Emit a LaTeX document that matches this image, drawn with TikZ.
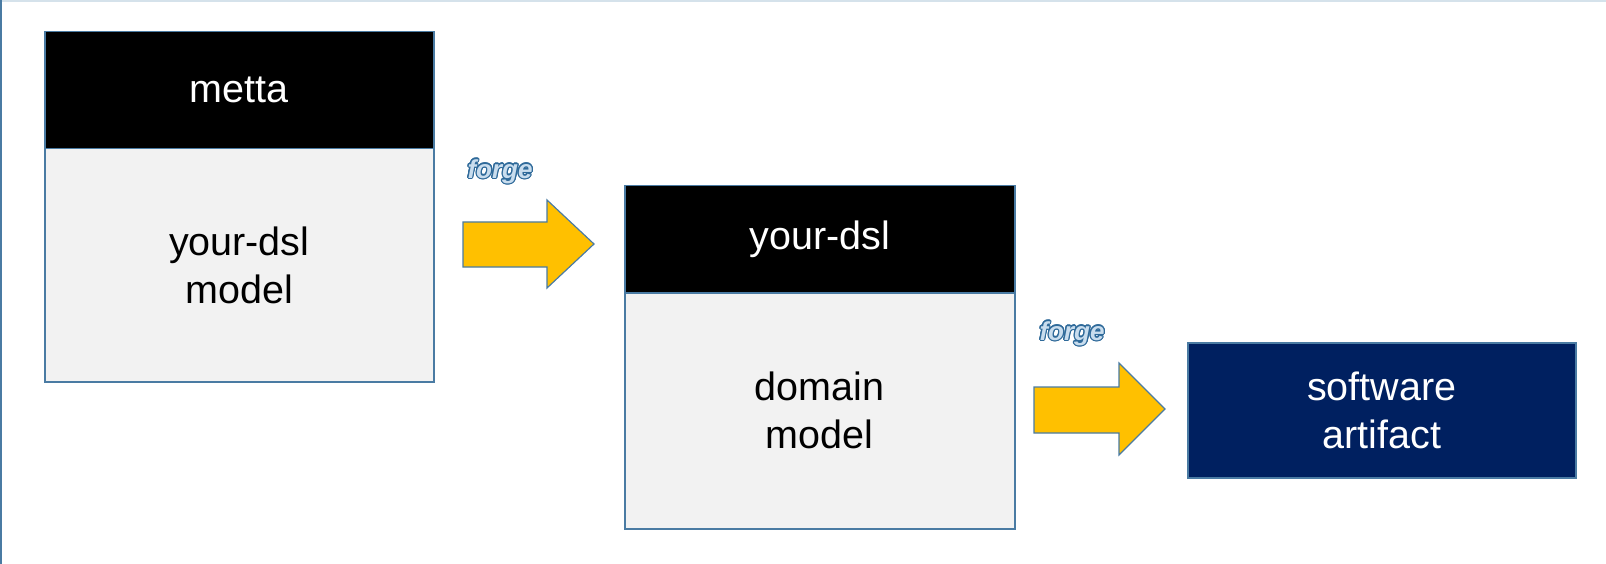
\documentclass[tikz,border=0pt]{standalone}
\usepackage{fontspec}
\setmainfont{Liberation Sans}
\usepackage{contour}
\contourlength{1.2pt}
\definecolor{edge}{HTML}{4A7BA3}
\definecolor{framelight}{HTML}{D5E2EB}
\definecolor{bodygray}{HTML}{F2F2F2}
\definecolor{navy}{HTML}{002060}
\definecolor{gold}{HTML}{FFC000}
\definecolor{forgeblue}{HTML}{2F6A9A}
\definecolor{forgefill}{HTML}{C9DDEE}
\begin{document}
\begin{tikzpicture}[x=1pt,y=-1pt,
  boxbase/.style={draw=edge, line width=1.5pt, inner sep=0pt, anchor=north west, align=center,
    font=\fontsize{39.5}{48}\selectfont},
  hdr/.style={boxbase, fill=black, text=white},
  bodybox/.style={boxbase, fill=bodygray, text=black},
  artbox/.style={boxbase, fill=navy, text=white},
  blockarrow/.style={fill=gold, draw=edge, line width=1.2pt, line join=miter},
  forgelabel/.style={font=\fontsize{26}{28}\selectfont\bfseries\itshape, inner sep=0pt}
]
\useasboundingbox (0,0) rectangle (1606,564);
\fill[white] (0,0) rectangle (1606,564);
\draw[framelight, line width=1.5pt] (0,1) -- (1606,1);
\draw[edge, line width=1.5pt] (1,0) -- (1,564);

% box 1
\node[hdr, minimum width=389pt, minimum height=117pt] (h1) at (44,31) {metta};
\node[bodybox, minimum width=389pt, minimum height=233pt] (b1) at (44,148) {your-dsl\\model};

% box 2
\node[hdr, minimum width=390pt, minimum height=107pt] (h2) at (624,185) {your-dsl};
\node[bodybox, minimum width=390pt, minimum height=236pt] (b2) at (624,292) {domain\\model};

% box 3
\node[artbox, minimum width=388pt, minimum height=135pt] (b3) at (1187,342) {software\\artifact};

% block arrows
\draw[blockarrow] (463,222) -- (547,222) -- (547,200) -- (594,244) -- (547,288) -- (547,267) -- (463,267) -- cycle;
\draw[blockarrow] (1034,387) -- (1119,387) -- (1119,363) -- (1165,409) -- (1119,455) -- (1119,433) -- (1034,433) -- cycle;

% labels
\node[forgelabel] (f1) at (500,172) {\contour{forgeblue}{\textcolor{forgefill}{forge}}};
\node[forgelabel] (f2) at (1072,334) {\contour{forgeblue}{\textcolor{forgefill}{forge}}};
\end{tikzpicture}
\end{document}
